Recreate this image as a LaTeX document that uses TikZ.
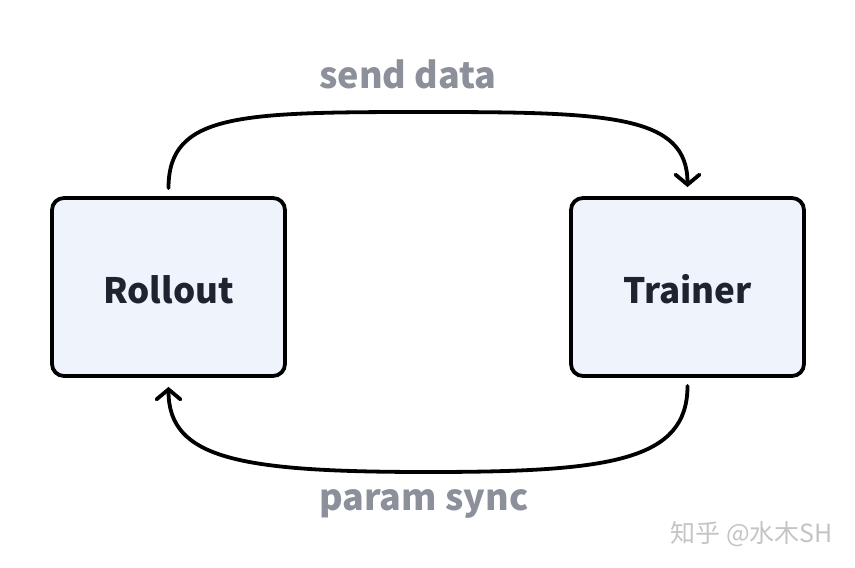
\documentclass[tikz,border=0pt]{standalone}
\usepackage{fontspec}
\setmainfont{Noto Sans CJK SC}
\newfontfamily\cjk{Noto Sans CJK SC}
\usetikzlibrary{arrows.meta,calc}
\definecolor{boxfill}{HTML}{EFF3FB}
\definecolor{txtdark}{HTML}{1F2330}
\definecolor{labgray}{HTML}{8B909A}
\definecolor{wmgray}{HTML}{C4C4C4}
\tikzset{
  procbox/.style={draw=black, line width=3.8pt, fill=boxfill, rounded corners=12pt,
    minimum width=233pt, minimum height=178pt, inner sep=0pt,
    text height=33pt, text depth=0pt,
    font=\fontsize{35}{37}\selectfont\bfseries, text=txtdark},
  flow/.style={line width=3.8pt, -{Straight Barb[length=10pt,width=24pt,line cap=round]}, line cap=round},
  flowlabel/.style={font=\fontsize{36}{38}\selectfont\bfseries, text=labgray, inner sep=0pt},
}
\begin{document}
\begin{tikzpicture}[x=1pt,y=-1pt]
\useasboundingbox (0,0) rectangle (855,568);
\node[procbox] (roll) at (168.5,287) {Rollout};
\node[procbox] (train) at (687.5,287) {Trainer};
\coordinate (tstart) at ([yshift=8pt]roll.north);
\coordinate (tend) at ([yshift=9pt]train.north);
\coordinate (bstart) at ([yshift=-8pt]train.south);
\coordinate (bend) at ([yshift=-9pt]roll.south);
\draw[flow] (tstart) .. controls ($(tstart)+(0,-75)$) and (240,112) .. (428,112)
   .. controls (610,112) and ($(tend)+(0,-72)$) .. (tend);
\draw[flow] (bstart) .. controls ($(bstart)+(0,75)$) and (610,472) .. (428,472)
   .. controls (240,472) and ($(bend)+(0,72)$) .. (bend);
\node[flowlabel, anchor=base] (sd) at (408,88) {send data};
\node[flowlabel, anchor=base] (ps) at (424,510) {param sync};
\node[font=\cjk\fontsize{25}{27}\selectfont, text=wmgray, anchor=base east, inner sep=0pt] (wm) at (833,542) {知乎 @水木SH};
\end{tikzpicture}
\end{document}
